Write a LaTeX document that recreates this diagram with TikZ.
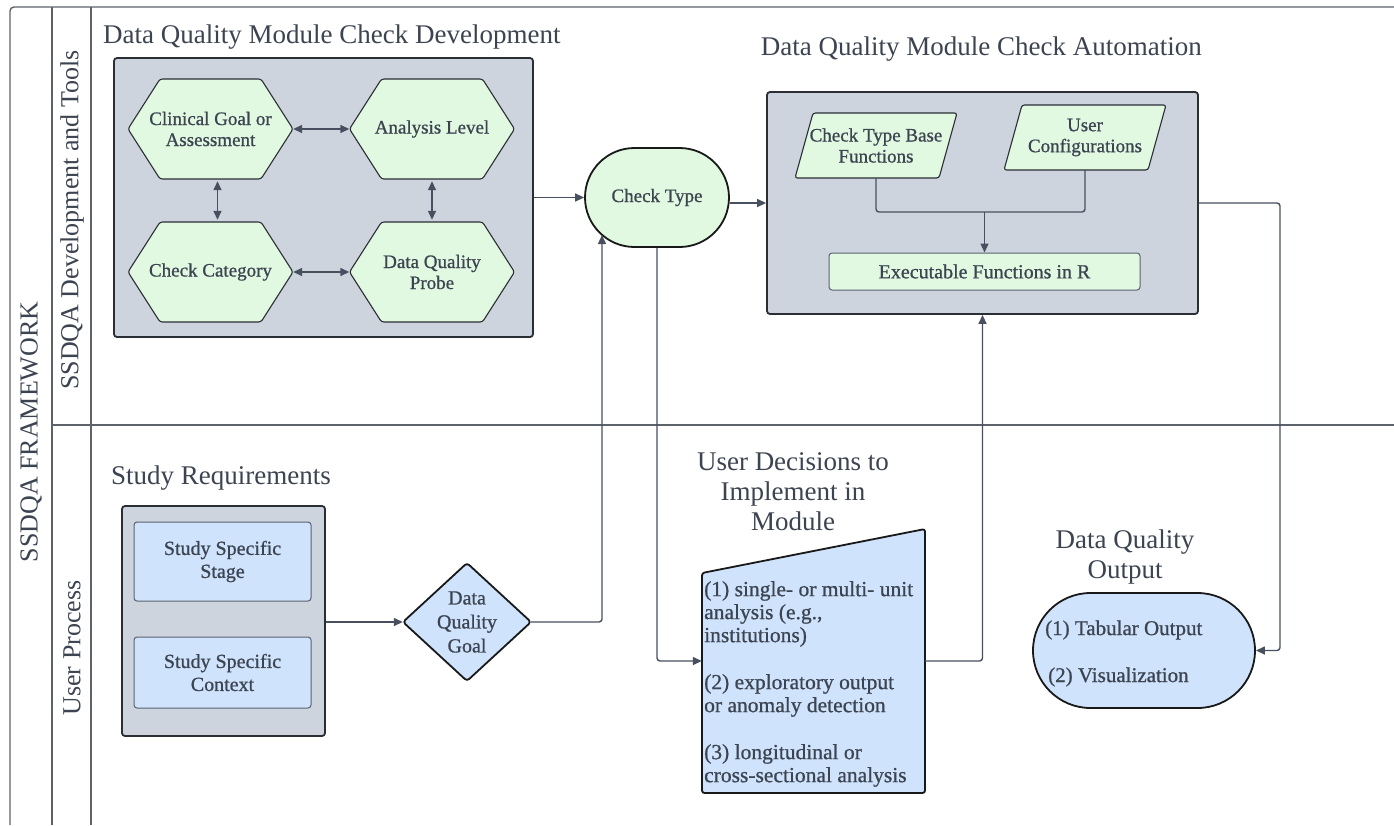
\documentclass[tikz,border=0pt]{standalone}
\usepackage{fontspec}
\setmainfont{Liberation Serif}
\newfontfamily\semib[FakeBold=0.8]{Liberation Serif}
\usetikzlibrary{arrows.meta,calc,shapes.misc}
\definecolor{txt}{HTML}{3D4451}
\definecolor{ln}{HTML}{485060}
\definecolor{bd}{HTML}{2A2E35}
\definecolor{lnb}{HTML}{5A6270}
\definecolor{grp}{HTML}{CED4DD}
\definecolor{grn}{HTML}{E1F8E1}
\definecolor{blu}{HTML}{CFE3FC}
\definecolor{frm}{HTML}{5E636B}
\tikzset{
  grpbox/.style={draw=bd, fill=grp, line width=1.8pt, rounded corners=3pt, inner sep=0pt},
  hexshape/.style={draw=bd, fill=grn, line width=1.1pt, rounded corners=2.5pt},
  parashape/.style={draw=bd, fill=grn, line width=1.1pt, rounded corners=2.5pt},
  shapelabel/.style={inner sep=0pt, align=center, text=txt, font=\semib\fontsize{19}{21}\selectfont},
  bigtitle/.style={inner sep=0pt, align=center, text=txt, font=\fontsize{27}{30}\selectfont},
  side/.style={rotate=90, inner sep=0pt, text=txt, font=\fontsize{26}{28}\selectfont},
  arr/.style={draw=ln, line width=1.4pt, -{Triangle[length=9pt,width=8pt]}, rounded corners=3pt},
  darr/.style={draw=ln, line width=1.4pt, {Triangle[length=9pt,width=8pt]}-{Triangle[length=9pt,width=8pt]}},
  link/.style={draw=ln, line width=1.4pt, rounded corners=3pt},
  thinbox/.style={draw=lnb, line width=1pt, rounded corners=3pt, inner sep=0pt, align=center, text=txt, font=\semib\fontsize{20}{23}\selectfont},
  heavy/.style={draw=black!90, line width=1.8pt},
  frame/.style={draw=frm, line width=1.4pt}
}
\newcommand{\hexn}[4]{%
  \draw[hexshape] (#2,#3) ++(-82.5,0) -- ++(32,-50) -- ++(101,0) -- ++(32,50) -- ++(-32,50) -- ++(-101,0) -- cycle;
  \node[shapelabel, minimum width=165pt, minimum height=100pt] (#1) at (#2,#3) {#4};}
\newcommand{\paran}[4]{%
  \draw[parashape] (#2,#3) ++(-81,32.5) -- ++(18,-65) -- ++(144,0) -- ++(-18,65) -- cycle;
  \node[shapelabel, minimum width=162pt, minimum height=65pt] (#1) at (#2,#3) {#4};}
\begin{document}
\begin{tikzpicture}[x=1pt,y=-1pt]
\useasboundingbox[fill=white] (0,0) rectangle (1394,825);
% frame
\draw[frame, rounded corners=4pt] (10,825) -- (10,7) -- (1394,7);
\draw[frame] (52,7) -- (52,825);
\draw[frame] (91,7) -- (91,825);
\draw[frame] (52,425) -- (1394,425);
\node[side] (lblfw) at (31,432) {SSDQA FRAMEWORK};
\node[side] (lbldev) at (72,220) {SSDQA Development and Tools};
\node[side] (lblusr) at (72,648) {User Process};

% ---- development group
\node[bigtitle, anchor=base west] (t1) at (103,43) {Data Quality Module Check Development};
\node[grpbox, minimum width=419pt, minimum height=279pt] (g1) at (323.5,197.5) {};
\hexn{cg}{210.5}{129}{Clinical Goal or\\Assessment}
\hexn{al}{432}{129}{Analysis Level}
\hexn{cc}{210.5}{272}{Check Category}
\hexn{dqp}{432}{272}{Data Quality\\Probe}
\draw[darr] (cg.east) -- (al.west);
\draw[darr] (cc.east) -- (dqp.west);
\draw[darr] ($(cg.south)+(7,2)$) -- ($(cc.north)+(7,-2)$);
\draw[darr] ($(al.south)+(0,2)$) -- ($(dqp.north)+(0,-2)$);

% ---- check type
\node[rounded rectangle, heavy, fill=grn, minimum width=144pt, minimum height=99pt, inner sep=0pt, text=txt, font=\semib\fontsize{19}{21}\selectfont] (ct) at (657,197.5) {Check Type};
\draw[arr] (g1.east) -- (ct.west);

% ---- automation group
\node[bigtitle, anchor=base east] (t2) at (1202,55) {Data Quality Module Check Automation};
\node[grpbox, minimum width=431pt, minimum height=222pt] (g2) at (982.5,203) {};
\paran{ctb}{876}{145.5}{Check Type Base\\Functions}
\paran{uc}{1085}{137.5}{User\\Configurations}
\node[thinbox, fill=grn, minimum width=311pt, minimum height=37pt] (ex) at (984.5,271.5) {Executable Functions in R};
\coordinate (j) at (984.5,212);
\draw[link] (ctb.south) |- (j) -| (uc.south);
\draw[arr] (j) -- (ex.north);
\draw[arr] (g2.west -| ct.east) -- (g2.west);

% ---- study requirements
\node[bigtitle, anchor=base west] (t3) at (111,484) {Study Requirements};
\node[grpbox, minimum width=203pt, minimum height=230pt] (sr) at (223.5,621) {};
\node[thinbox, fill=blu, minimum width=177pt, minimum height=79pt] (stage) at (222.5,561.5) {Study Specific\\Stage};
\node[thinbox, fill=blu, minimum width=177pt, minimum height=71pt] (ctx) at (222.5,672.5) {Study Specific\\Context};

% ---- diamond
\draw[heavy, fill=blu, rounded corners=3pt] (467,622) ++(-64,0) -- ++(64,-59) -- ++(64,59) -- ++(-64,59) -- cycle;
\node[inner sep=0pt, align=center, text=txt, font=\semib\fontsize{20}{24}\selectfont, minimum width=128pt, minimum height=118pt] (dg) at (467,622) {Data\\Quality\\Goal};
\draw[arr] (sr.east |- dg.west) -- (dg.west);
\coordinate (ctin) at (602,235);
\draw[arr] (dg.east) -| (ctin);

% ---- user decisions
\node[bigtitle] (t4) at (793,492) {User Decisions to\\Implement in\\Module};
\draw[heavy, fill=blu, rounded corners=2.5pt] (702,573) -- (925,529) -- (925,793) -- (702,793) -- cycle;
\node[minimum width=223pt, minimum height=264pt, inner sep=0pt] (ud) at (813.5,661) {};
\node[inner sep=0pt, anchor=north west, align=left, text=txt, font=\semib\fontsize{21.5}{23}\selectfont] (udtext) at (704,581)
  {(1) single- or multi- unit\\analysis (e.g.,\\institutions)\\[24pt](2) exploratory output\\or anomaly detection\\[24pt](3) longitudinal or\\cross-sectional analysis};
\draw[arr] (ct.south) |- (ud.west);
\draw[arr] (ud.east) -| (g2.south);

% ---- output
\node[bigtitle] (t5) at (1125,557) {Data Quality\\Output};
\node[rounded rectangle, heavy, fill=blu, minimum width=222pt, minimum height=115pt, inner sep=0pt] (out) at (1144,650.5) {};
\node[inner sep=0pt, anchor=west, align=left, text=txt, font=\semib\fontsize{21}{47}\selectfont] (outtext) at (1045,653.5) {(1) Tabular Output\\\hspace*{3pt}(2) Visualization};
\coordinate (rc) at (1280,203);
\draw[arr] (g2.east) -- (rc) |- (out.east);
\end{tikzpicture}
\end{document}
